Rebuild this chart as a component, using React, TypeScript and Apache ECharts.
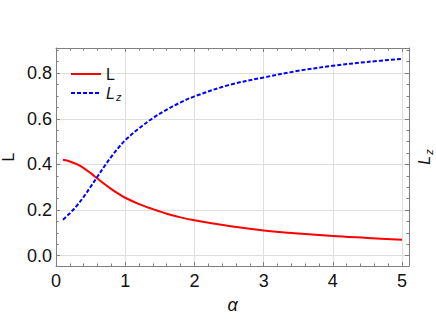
import React, { useEffect, useRef } from "react";
import * as echarts from "echarts";

const alpha = [0.1, 0.2, 0.3, 0.4, 0.5, 0.6, 0.7, 0.8, 0.9, 1.0, 1.2, 1.4, 1.6, 1.8, 2.0, 2.5, 3.0, 3.5, 4.0, 4.5, 5.0];
const Lvals = [0.420, 0.413, 0.401, 0.384, 0.362, 0.338, 0.314, 0.292, 0.272, 0.254, 0.226, 0.204, 0.184, 0.168, 0.155, 0.130, 0.111, 0.097, 0.086, 0.078, 0.070];
const Lzvals = [0.158, 0.186, 0.219, 0.258, 0.302, 0.347, 0.392, 0.434, 0.472, 0.506, 0.558, 0.603, 0.640, 0.672, 0.698, 0.748, 0.781, 0.810, 0.832, 0.849, 0.862];
const seriesNames = ["L", "Lz"];

const FRAME = "#808080";
const GRID = "#dedede";
const FONT = "Liberation Sans, Arial, sans-serif";

const rich = {
  i: { fontStyle: "italic", fontSize: 16, fontFamily: FONT, color: "#111" },
  s: { fontStyle: "italic", fontSize: 11, fontFamily: FONT, color: "#111", padding: [8, 0, 0, 1] },
};

export default function App() {
  const ref = useRef<HTMLDivElement>(null);
  useEffect(() => {
    if (!ref.current) return;
    const chart = echarts.init(ref.current, null, { renderer: "svg" });
    const tickCommon = {
      axisLine: { show: true, onZero: false, lineStyle: { color: FRAME, width: 1 } },
      axisTick: { show: true, inside: true, length: 4, lineStyle: { color: FRAME } },
    };
    const xRange = { min: 0, max: 5.1 };
    const yRange = { min: -0.045, max: 0.91, splitNumber: 5 };
    chart.setOption({
      animation: false,
      backgroundColor: "#ffffff",
      grid: { left: 56, right: 27, top: 48, bottom: 53, containLabel: false, outerBoundsMode: "none" },
      legend: {
        orient: "vertical",
        left: 65,
        top: 61,
        itemWidth: 30,
        itemHeight: 10,
        itemGap: 3,
        data: seriesNames,
        itemStyle: { color: "rgba(0,0,0,0)", borderWidth: 0, opacity: 0 },
        formatter: (n: string) => (n === "Lz" ? "{i|L}{s|z}" : "L"),
        textStyle: { fontSize: 16, fontFamily: FONT, color: "#111", padding: [0, 0, 0, 0], rich },
      },
      xAxis: [
        {
          type: "value",
          position: "bottom",
          ...xRange,
          ...tickCommon,
          minorTick: { show: true, splitNumber: 5, length: 2.5, lineStyle: { color: FRAME } },
          splitLine: { show: true, lineStyle: { color: GRID, width: 1 } },
          axisLabel: {
            fontSize: 18,
            fontFamily: FONT,
            color: "#111",
            margin: 6,
            showMaxLabel: false,
            formatter: (v: number) => String(Math.round(v)),
          },
          name: "α",
          nameLocation: "middle",
          nameGap: 30,
          nameTextStyle: { fontSize: 18, fontStyle: "italic", fontFamily: FONT, color: "#111" },
        },
        {
          type: "value",
          position: "top",
          ...xRange,
          ...tickCommon,
          minorTick: { show: true, splitNumber: 5, length: 2.5, lineStyle: { color: FRAME } },
          splitLine: { show: false },
          axisLabel: { show: false },
        },
      ],
      yAxis: [
        {
          type: "value",
          position: "left",
          ...yRange,
          ...tickCommon,
          minorTick: { show: true, splitNumber: 4, length: 2.5, lineStyle: { color: FRAME } },
          splitLine: { show: true, lineStyle: { color: GRID, width: 1 } },
          axisLabel: {
            fontSize: 18,
            fontFamily: FONT,
            color: "#111",
            margin: 4,
            showMinLabel: false,
            showMaxLabel: false,
            formatter: (v: number) => v.toFixed(1),
          },
          name: "L",
          nameLocation: "middle",
          nameRotate: 90,
          nameGap: 40,
          nameTextStyle: { fontSize: 16, fontFamily: FONT, color: "#111" },
        },
        {
          type: "value",
          position: "right",
          ...yRange,
          ...tickCommon,
          minorTick: { show: true, splitNumber: 4, length: 2.5, lineStyle: { color: FRAME } },
          splitLine: { show: false },
          axisLabel: { show: false },
          name: "{i|L}{s|z}",
          nameLocation: "middle",
          nameRotate: 90,
          nameGap: 6,
          nameTextStyle: { fontSize: 16, fontFamily: FONT, color: "#111", rich },
        },
      ],
      series: [
        {
          name: "L",
          type: "line",
          xAxisIndex: 0,
          yAxisIndex: 0,
          showSymbol: false,
          symbol: "none",
          smooth: 0.35,
          lineStyle: { color: "#ff0000", width: 2 },
          itemStyle: { color: "#ff0000" },
          data: alpha.map((a, i) => [a, Lvals[i]]),
        },
        {
          name: "Lz",
          type: "line",
          xAxisIndex: 0,
          yAxisIndex: 0,
          showSymbol: false,
          symbol: "none",
          smooth: 0.35,
          lineStyle: { color: "#0000ff", width: 2, type: [4, 2] },
          itemStyle: { color: "#0000ff" },
          data: alpha.map((a, i) => [a, Lzvals[i]]),
        },
      ],
    });
    return () => chart.dispose();
  }, []);
  return <div ref={ref} style={{ position: "fixed", left: 0, top: 0, width: 436, height: 319 }} />;
}
